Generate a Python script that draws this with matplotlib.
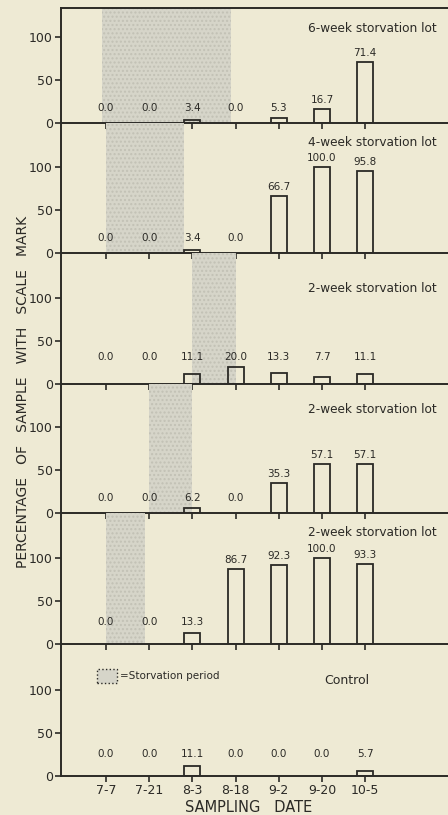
import matplotlib.pyplot as plt
from matplotlib.patches import Rectangle

# sampling dates and per-lot percentages
dates = ["7-7", "7-21", "8-3", "8-18", "9-2", "9-20", "10-5"]
lots = ["6-week storvation lot", "4-week storvation lot", "2-week storvation lot",
        "2-week storvation lot", "2-week storvation lot", "Control"]
pct_6wk = [0.0, 0.0, 3.4, 0.0, 5.3, 16.7, 71.4]
pct_4wk = [0.0, 0.0, 3.4, 0.0, 66.7, 100.0, 95.8]
pct_2wk_c = [0.0, 0.0, 11.1, 20.0, 13.3, 7.7, 11.1]
pct_2wk_b = [0.0, 0.0, 6.2, 0.0, 35.3, 57.1, 57.1]
pct_2wk_a = [0.0, 0.0, 13.3, 86.7, 92.3, 100.0, 93.3]
pct_control = [0.0, 0.0, 11.1, 0.0, 0.0, 0.0, 5.7]
series = [pct_6wk, pct_4wk, pct_2wk_c, pct_2wk_b, pct_2wk_a, pct_control]

# starvation period in sampling-date index units (None = not starved)
starve_from = [-0.1, 0.0, 2.0, 1.0, 0.0, None]
starve_to = [2.9, 1.8, 3.0, 2.0, 0.9, None]

# layout (pixels)
W, H = 448, 815
LEFT = 61
tops = [8, 123, 253, 384, 513, 644]
bottoms = [123, 253, 384, 513, 644, 776]
PX_PER_UNIT = 0.86
title_drop = [20, 19, 35, 25, 19, 36]
label_floor = [7, 7, 21, 7, 15, 15]

bg = "#eeead4"
ink = "#2b2a26"
shade = "#d6d5c9"

plt.rcParams["font.family"] = "DejaVu Sans"
fig = plt.figure(figsize=(W / 100, H / 100), dpi=100, facecolor=bg)

x = list(range(len(dates)))
for i, vals in enumerate(series):
    t, b = tops[i], bottoms[i]
    ax = fig.add_axes([LEFT / W, 1 - b / H, (W - LEFT) / W, (b - t) / H])
    ax.set_facecolor("none")
    ax.set_xlim(-1.04, (W - 106) / 43.2)
    ax.set_ylim(0, (b - t) / PX_PER_UNIT)

    if starve_from[i] is not None:
        ax.axvspan(starve_from[i], starve_to[i], facecolor=shade,
                   edgecolor="#c2c1b5", hatch="....", lw=0, zorder=0)

    xs = [xi for xi, v in zip(x, vals) if v > 0]
    hs = [v for v in vals if v > 0]
    ax.bar(xs, hs, width=0.37, facecolor="none", edgecolor=ink, lw=1.3, zorder=2)

    for xi, v in zip(x, vals):
        ax.annotate(f"{v:.1f}", (xi, max(v, label_floor[i])), xytext=(0, 6.5),
                    textcoords="offset points", ha="center", va="center",
                    fontsize=7.5, color=ink)

    if lots[i] == "Control":
        ax.text((347 - LEFT) / (W - LEFT), 1 - title_drop[i] / (b - t), lots[i],
                transform=ax.transAxes, ha="center", va="center", fontsize=9, color=ink)
    else:
        ax.text((437 - LEFT) / (W - LEFT), 1 - title_drop[i] / (b - t), lots[i],
                transform=ax.transAxes, ha="right", va="center", fontsize=8.7, color=ink)

    for side in ["right", "top"]:
        ax.spines[side].set_visible(False)
    if i == 0:
        ax.spines["top"].set_visible(True)
    for side in ["left", "bottom", "top"]:
        ax.spines[side].set_color(ink)
        ax.spines[side].set_linewidth(1.4)

    ax.set_yticks([0, 50, 100])
    ax.set_xticks(x)
    if i == len(series) - 1:
        ax.set_xticklabels(dates)
    else:
        ax.set_xticklabels([])
    ax.tick_params(direction="out", length=4, width=1.2, color=ink,
                   labelcolor=ink, labelsize=9, pad=2)

# legend for shaded period
fig.patches.append(Rectangle((97 / W, 1 - 683 / H), 20 / W, 14 / H,
                             transform=fig.transFigure, facecolor=shade,
                             edgecolor=ink, linestyle=":", lw=1))
fig.text(120 / W, 1 - 676 / H, "=Storvation period", ha="left", va="center",
         fontsize=7.5, color=ink)

fig.text(23 / W, 1 - 392 / H, "PERCENTAGE   OF   SAMPLE   WITH   SCALE   MARK",
         rotation=90, ha="center", va="center", fontsize=10, color=ink)
fig.text(249 / W, 1 - 808 / H, "SAMPLING   DATE", ha="center", va="center",
         fontsize=10.5, color=ink)

fig.savefig("out.png", dpi=100, facecolor=bg)
